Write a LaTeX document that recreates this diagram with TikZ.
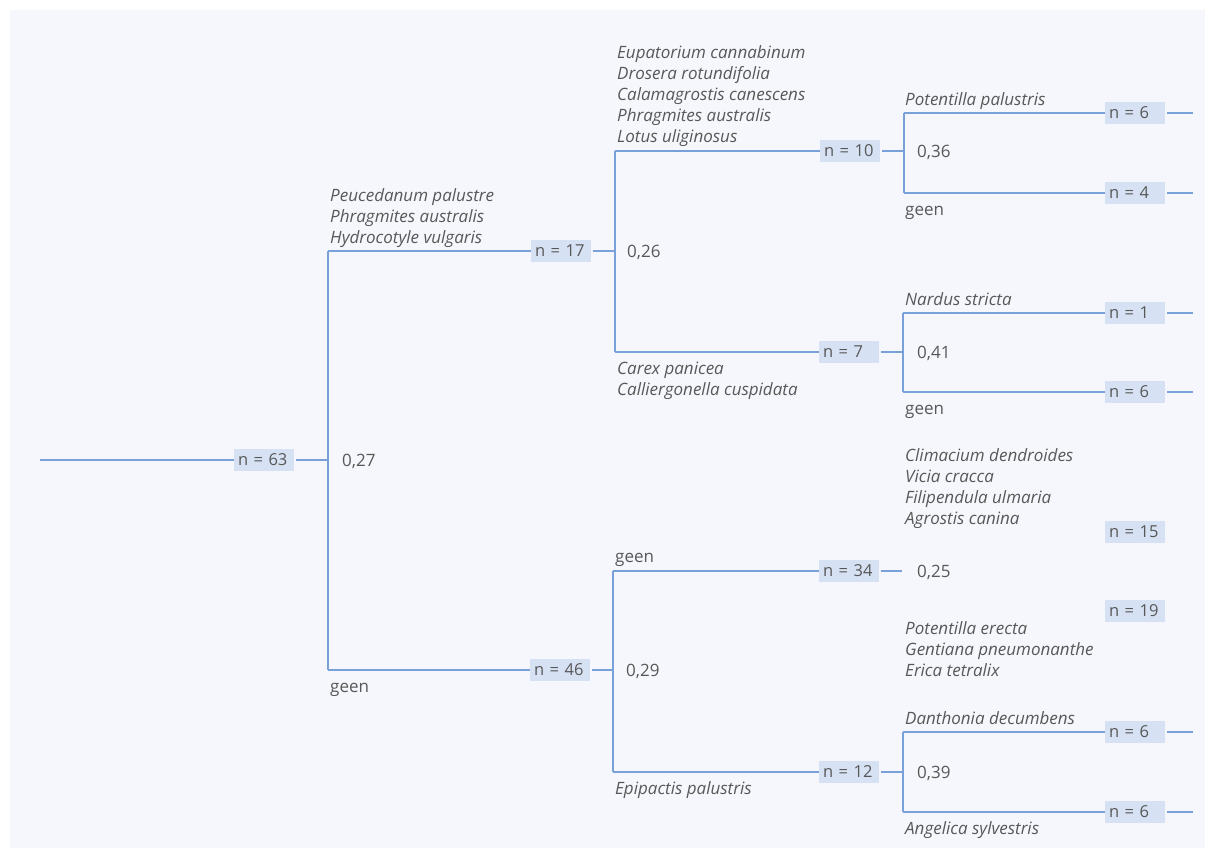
\documentclass[tikz,border=0pt]{standalone}
\usepackage{fontspec}
\setmainfont{Open Sans}
\usetikzlibrary{calc,positioning}
\definecolor{treeline}{RGB}{122,160,218}
\definecolor{nfill}{RGB}{214,226,244}
\definecolor{inkgray}{RGB}{88,88,88}
\definecolor{paper}{RGB}{246,247,252}
\tikzstyle{branch}=[draw=treeline, line width=1.3pt]
\tikzstyle{nbox}=[fill=nfill, text=inkgray, inner xsep=4pt, inner ysep=0pt, minimum height=22pt, text width=52pt, align=left, font=\fontsize{16.5}{18}\selectfont]
\tikzstyle{species}=[text=inkgray, inner sep=0pt, align=left, anchor=base west, font=\fontsize{17}{21}\selectfont\itshape]
\tikzstyle{plain}=[text=inkgray, inner sep=0pt, anchor=base west, font=\fontsize{17}{21}\selectfont]
\newcommand{\leafN}[3]{
	\node[nbox] (#1) at #2 {n = #3};
	\coordinate (#1-end) at ($(#1.east)+(28,0)$);
	\draw[branch, shorten <=2pt] (#1.east) -- (#1-end);
}

\begin{document}
\begin{tikzpicture}[x=1pt, y=-1pt]
	\useasboundingbox (0,0) rectangle (1210,854);
	\fill[paper] (10,10) rectangle (1205,848);

	% root
	\coordinate (root) at (40,460);
	\node[nbox] (n63) at (264,460) {n = 63};
	\coordinate (s0) at (328,460);
	\coordinate (s0a) at (328,251);
	\coordinate (s0b) at (328,670);
	\draw[branch] (root) -- (n63.west);
	\draw[branch, shorten <=2pt] (n63.east) -- (s0);
	\draw[branch] (s0a) -- (s0b);
	\node[plain] (c0) at (342,466) {0,27};

	% upper half
	\node[nbox] (n17) at (561,251) {n = 17};
	\draw[branch] (s0a) -- (n17.west);
	\node[species] (t17) at (330,243) {Peucedanum palustre\\Phragmites australis\\Hydrocotyle vulgaris};
	\coordinate (s1) at (615,251);
	\coordinate (s1a) at (615,151);
	\coordinate (s1b) at (615,352);
	\draw[branch, shorten <=2pt] (n17.east) -- (s1);
	\draw[branch] (s1a) -- (s1b);
	\node[plain] (c1) at (627,257) {0,26};

	\node[nbox] (n10) at (850,151) {n = 10};
	\draw[branch] (s1a) -- (n10.west);
	\node[species] (t10) at (617,142) {Eupatorium cannabinum\\Drosera rotundifolia\\Calamagrostis canescens\\Phragmites australis\\Lotus uliginosus};
	\coordinate (s3) at (904,151);
	\coordinate (s3a) at (904,113);
	\coordinate (s3b) at (904,193);
	\draw[branch, shorten <=2pt] (n10.east) -- (s3);
	\draw[branch] (s3a) -- (s3b);
	\node[plain] (c3) at (917,157) {0,36};
	\leafN{n6a}{(1135,113)}{6}
	\leafN{n4}{(1135,193)}{4}
	\draw[branch] (s3a) -- (n6a.west);
	\draw[branch] (s3b) -- (n4.west);
	\node[species] (t6a) at (905,105) {Potentilla palustris};
	\node[plain] (g4) at (905,215) {geen};

	\node[nbox] (n7) at (849,352) {n = 7};
	\draw[branch] (s1b) -- (n7.west);
	\node[species] (t7) at (617,395) {Carex panicea\\Calliergonella cuspidata};
	\coordinate (s4) at (903,352);
	\coordinate (s4a) at (903,313);
	\coordinate (s4b) at (903,392);
	\draw[branch, shorten <=2pt] (n7.east) -- (s4);
	\draw[branch] (s4a) -- (s4b);
	\node[plain] (c4) at (917,358) {0,41};
	\leafN{n1}{(1135,313)}{1}
	\leafN{n6b}{(1135,392)}{6}
	\draw[branch] (s4a) -- (n1.west);
	\draw[branch] (s4b) -- (n6b.west);
	\node[species] (t1) at (905,305) {Nardus stricta};
	\node[plain] (g6b) at (905,414) {geen};

	% lower half
	\node[nbox] (n46) at (560,670) {n = 46};
	\draw[branch] (s0b) -- (n46.west);
	\node[plain] (g46) at (330,692) {geen};
	\coordinate (s2) at (613,670);
	\coordinate (s2a) at (613,571);
	\coordinate (s2b) at (613,772);
	\draw[branch, shorten <=2pt] (n46.east) -- (s2);
	\draw[branch] (s2a) -- (s2b);
	\node[plain] (c2) at (626,676) {0,29};

	\node[nbox] (n34) at (849,571) {n = 34};
	\draw[branch] (s2a) -- (n34.west);
	\node[plain] (g34) at (615,562) {geen};
	\coordinate (s5) at (902,571);
	\draw[branch, shorten <=2pt] (n34.east) -- (s5);
	\node[plain] (c5) at (917,577) {0,25};
	\node[nbox] (n15) at (1135,532) {n = 15};
	\node[nbox] (n19) at (1135,611) {n = 19};
	\node[species] (t15) at (905,524) {Climacium dendroides\\Vicia cracca\\Filipendula ulmaria\\Agrostis canina};
	\node[species] (t19) at (905,676) {Potentilla erecta\\Gentiana pneumonanthe\\Erica tetralix};

	\node[nbox] (n12) at (849,772) {n = 12};
	\draw[branch] (s2b) -- (n12.west);
	\node[species] (t12) at (615,794) {Epipactis palustris};
	\coordinate (s6) at (903,772);
	\coordinate (s6a) at (903,732);
	\coordinate (s6b) at (903,812);
	\draw[branch, shorten <=2pt] (n12.east) -- (s6);
	\draw[branch] (s6a) -- (s6b);
	\node[plain] (c6) at (917,778) {0,39};
	\leafN{n6c}{(1135,732)}{6}
	\leafN{n6d}{(1135,812)}{6}
	\draw[branch] (s6a) -- (n6c.west);
	\draw[branch] (s6b) -- (n6d.west);
	\node[species] (t6c) at (905,724) {Danthonia decumbens};
	\node[species] (t6d) at (905,834) {Angelica sylvestris};
\end{tikzpicture}
\end{document}
